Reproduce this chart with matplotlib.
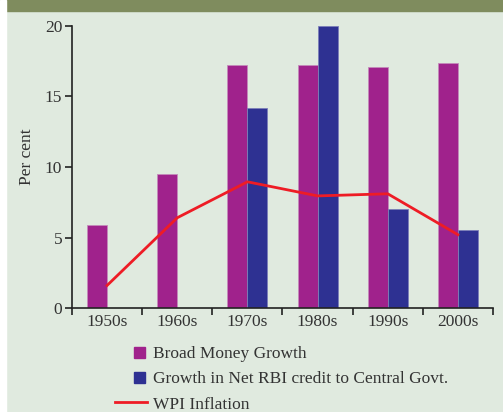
import numpy as np
import matplotlib
matplotlib.use("Agg")
import matplotlib.pyplot as plt
from matplotlib.patches import Rectangle
from matplotlib.lines import Line2D
from matplotlib.legend_handler import HandlerPatch

decades = ["1950s", "1960s", "1970s", "1980s", "1990s", "2000s"]
broad_money = [5.9, 9.5, 17.2, 17.2, 17.1, 17.4]
rbi_credit = [0, 0, 14.15, 20.0, 7.05, 5.5]
wpi = [1.6, 6.4, 8.95, 7.95, 8.1, 5.2]

magenta = "#A0228C"
blue = "#2E3192"
red = "#EE1C25"
bg = "#E0EADF"
txt = "#333333"
fs = 12.5

plt.rcParams["font.family"] = ["Liberation Serif", "DejaVu Serif"]

fig = plt.figure(figsize=(5.03, 4.12), dpi=100)
fig.patch.set_facecolor(bg)
# top band and white left strip
fig.patches.append(Rectangle((0, 1 - 11 / 412), 1, 11 / 412, transform=fig.transFigure,
                             color="#7F8C5E", zorder=0))
fig.patches.append(Rectangle((0, 0), 6 / 503, 1, transform=fig.transFigure,
                             color="white", zorder=0))

ax = fig.add_axes([72 / 503, 104 / 412, 421 / 503, 282 / 412])
ax.set_facecolor(bg)

x = np.arange(len(decades))
w = 0.285
ax.bar(x - w / 2, broad_money, w, color=magenta, edgecolor="#C48ABA", linewidth=0.6,
       label="Broad Money Growth")
ax.bar(x + w / 2, rbi_credit, w, color=blue, edgecolor="#7C7EB8", linewidth=0.6,
       label="Growth in Net RBI credit to Central Govt.")
ax.plot(x, wpi, color=red, linewidth=2.0, label="WPI Inflation", zorder=3)

ax.set_xlim(-0.5, 5.5)
ax.set_ylim(0, 20)
ax.set_yticks([0, 5, 10, 15, 20])
ax.set_xticks(np.arange(-0.5, 6, 1))
ax.set_xticklabels([])
ax.set_xticks(x, minor=True)
ax.set_xticklabels(decades, minor=True)
ax.tick_params(axis="x", which="minor", length=0, pad=4, labelsize=fs, labelcolor=txt)
ax.tick_params(axis="x", which="major", length=5, width=1.2, color="#222222")
ax.tick_params(axis="y", length=5, width=1.2, color="#222222", labelsize=fs,
               labelcolor=txt, pad=2)
for s in ["top", "right"]:
    ax.spines[s].set_visible(False)
for s in ["left", "bottom"]:
    ax.spines[s].set_linewidth(1.2)
    ax.spines[s].set_color("#222222")

ax.set_ylabel("Per cent", fontsize=fs, color=txt)
ax.yaxis.set_label_coords(-0.087, 0.535)


def small_square(legend, orig_handle, xdescent, ydescent, width, height, fontsize):
    s = 11 * 72 / 100
    return Rectangle((width - s - 1.5 - xdescent, (height - s) / 2 - ydescent), s, s)


handles = [
    Rectangle((0, 0), 1, 1, color=magenta),
    Rectangle((0, 0), 1, 1, color=blue),
    Line2D([0], [0], color=red, linewidth=2.0),
]
labels = ["Broad Money Growth", "Growth in Net RBI credit to Central Govt.", "WPI Inflation"]
leg = fig.legend(handles, labels, loc="upper left", bbox_to_anchor=(115 / 503, 1 - 346 / 412),
                 frameon=False, fontsize=fs, handlelength=1.84, handletextpad=0.35,
                 labelspacing=0.52, borderaxespad=0, borderpad=0,
                 handler_map={Rectangle: HandlerPatch(patch_func=small_square)})
for t in leg.get_texts():
    t.set_color(txt)

fig.savefig("out.png", dpi=100, facecolor=bg)
